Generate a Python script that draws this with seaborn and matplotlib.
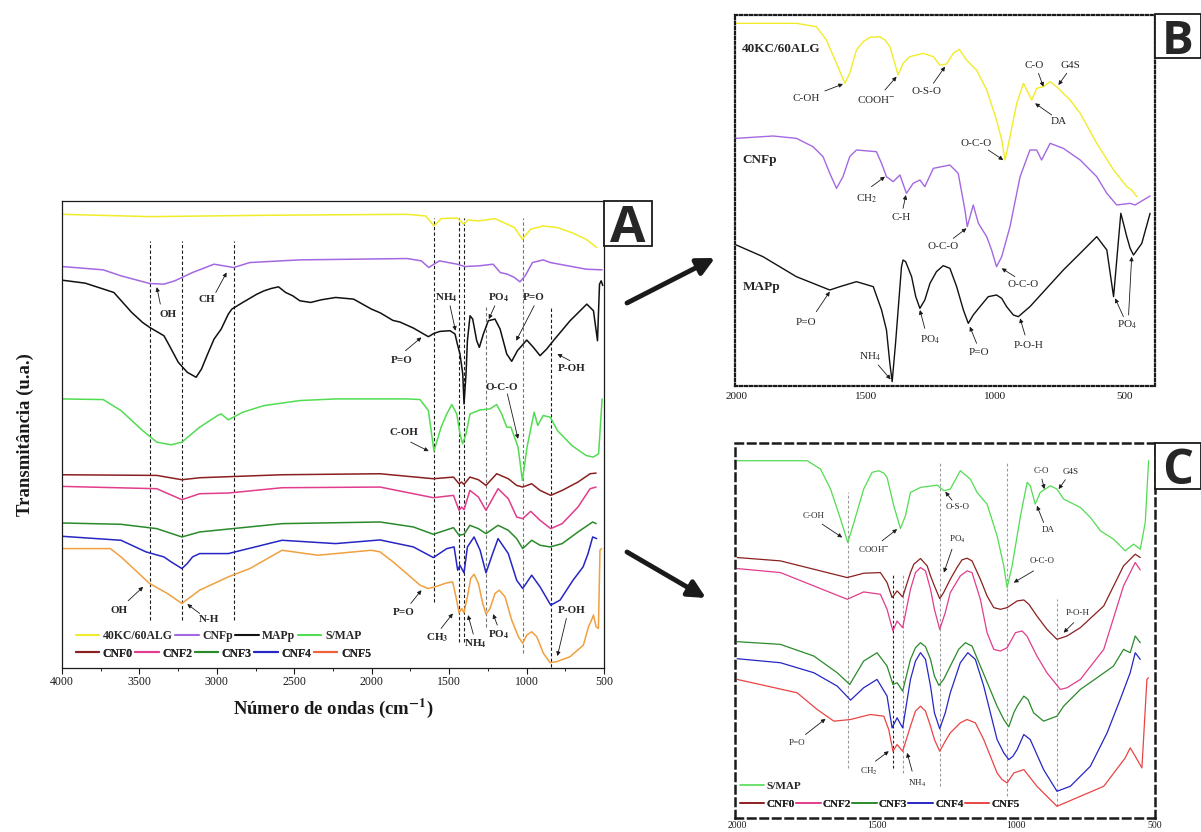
import matplotlib
matplotlib.use("Agg")
import matplotlib.pyplot as plt
import pandas as pd
import seaborn as sns
from matplotlib.lines import Line2D
from matplotlib.patches import Rectangle, FancyArrowPatch

# ---------------- Panel A data (wavenumber, transmittance a.u.) ----------------
A_KC_WN = [4000, 3434, 2695, 1771, 1651, 1598, 1552, 1448, 1406, 1378, 1309, 1205, 1147, 1078, 1027, 974, 893, 801, 708, 616, 547]
A_KC_T = [1364, 1357, 1361, 1364, 1359, 1329, 1351, 1353, 1334, 1347, 1344, 1351, 1339, 1324, 1289, 1319, 1329, 1324, 1309, 1289, 1264]

A_CNFP_WN = [4000, 3734, 3619, 3434, 3342, 3272, 3157, 3018, 2891, 2787, 2464, 1771, 1679, 1632, 1598, 1563, 1448, 1401, 1309, 1216, 1170, 1124, 1078, 1043, 1009, 962, 893, 847, 731, 616, 512]
A_CNFP_T = [1207, 1197, 1179, 1156, 1154, 1164, 1189, 1214, 1204, 1219, 1227, 1231, 1224, 1204, 1214, 1224, 1214, 1207, 1209, 1214, 1189, 1184, 1174, 1161, 1179, 1219, 1227, 1219, 1209, 1199, 1197]

A_MAP_WN = [4000, 3850, 3665, 3550, 3480, 3434, 3342, 3318, 3249, 3191, 3134, 3099, 3064, 3018, 2972, 2926, 2903, 2833, 2741, 2695, 2649, 2602, 2556, 2510, 2464, 2394, 2325, 2233, 2117, 2002, 1946, 1863, 1817, 1731, 1634, 1598, 1559, 1494, 1462, 1447, 1430, 1412, 1404, 1391, 1382, 1365, 1348, 1322, 1305, 1279, 1247, 1204, 1171, 1128, 1096, 1059, 999, 956, 913, 870, 827, 719, 611, 568, 542, 529, 518, 508]
A_MAP_T = [1166, 1157, 1129, 1069, 1039, 1024, 999, 979, 919, 889, 874, 899, 939, 989, 1019, 1064, 1079, 1099, 1124, 1134, 1141, 1146, 1129, 1119, 1104, 1099, 1107, 1114, 1109, 1079, 1068, 1045, 1040, 1022, 996, 1006, 1012, 1014, 1004, 974, 944, 884, 794, 884, 984, 1059, 1049, 984, 964, 1004, 1044, 1049, 1019, 944, 922, 954, 986, 964, 939, 959, 984, 1044, 1094, 1074, 984, 1154, 1164, 1150]

A_SMAP_WN = [4000, 3734, 3619, 3480, 3388, 3295, 3226, 3111, 2995, 2972, 2926, 2833, 2695, 2464, 2233, 1771, 1688, 1634, 1598, 1552, 1515, 1483, 1451, 1430, 1413, 1391, 1365, 1300, 1236, 1193, 1161, 1128, 1101, 1055, 1027, 997, 951, 928, 893, 847, 801, 708, 616, 570, 535, 512]
A_SMAP_T = [809, 807, 774, 714, 679, 671, 679, 724, 759, 764, 746, 769, 789, 804, 809, 809, 807, 774, 652, 724, 764, 792, 764, 704, 674, 704, 764, 776, 779, 792, 764, 724, 724, 664, 564, 664, 769, 729, 759, 754, 714, 669, 639, 634, 644, 809]

A_CNF0_WN = [4000, 3388, 3226, 3111, 2579, 1946, 1602, 1472, 1436, 1420, 1404, 1366, 1311, 1262, 1193, 1118, 1064, 1025, 967, 913, 844, 770, 668, 590, 551]
A_CNF0_T = [581, 579, 566, 572, 581, 584, 569, 574, 554, 559, 552, 574, 566, 549, 584, 569, 549, 544, 554, 534, 519, 534, 559, 584, 586]

A_CNF2_WN = [4000, 3388, 3226, 3111, 2926, 2579, 1946, 1602, 1472, 1436, 1419, 1404, 1366, 1311, 1262, 1184, 1118, 1064, 1025, 973, 913, 844, 770, 668, 590, 551]
A_CNF2_T = [546, 539, 506, 524, 526, 542, 544, 512, 519, 474, 484, 476, 534, 514, 474, 539, 509, 454, 449, 471, 444, 419, 434, 484, 539, 544]

A_CNF3_WN = [4000, 3619, 3388, 3226, 3111, 2579, 1946, 1731, 1602, 1472, 1436, 1404, 1366, 1311, 1262, 1184, 1118, 1064, 1025, 967, 913, 848, 770, 668, 573, 551]
A_CNF3_T = [436, 432, 419, 394, 409, 434, 439, 424, 402, 422, 399, 402, 429, 419, 404, 429, 414, 389, 359, 384, 369, 364, 374, 409, 439, 434]

A_CNF4_WN = [4000, 3619, 3457, 3342, 3295, 3226, 3191, 3157, 3111, 2926, 2579, 2233, 1946, 1731, 1602, 1515, 1468, 1445, 1430, 1404, 1382, 1339, 1300, 1262, 1219, 1184, 1118, 1064, 1025, 967, 913, 844, 784, 700, 635, 603, 573, 547]
A_CNF4_T = [396, 384, 349, 334, 319, 299, 314, 334, 344, 344, 384, 374, 385, 364, 332, 359, 364, 294, 309, 286, 364, 394, 354, 286, 344, 389, 344, 264, 239, 279, 244, 189, 204, 264, 304, 344, 394, 389]

A_CNF5_WN = [4000, 3688, 3619, 3434, 3319, 3226, 3111, 2926, 2787, 2579, 2348, 2002, 1946, 1862, 1774, 1688, 1636, 1591, 1515, 1477, 1456, 1436, 1419, 1404, 1382, 1361, 1339, 1311, 1283, 1262, 1236, 1204, 1176, 1139, 1096, 1053, 1025, 999, 967, 934, 891, 848, 805, 719, 633, 600, 585, 568, 551, 536, 526, 515]
A_CNF5_T = [359, 359, 334, 254, 224, 194, 234, 274, 299, 354, 339, 354, 349, 319, 284, 249, 239, 244, 256, 259, 214, 166, 179, 166, 214, 269, 282, 254, 194, 162, 179, 224, 234, 214, 144, 94, 74, 99, 109, 94, 44, 16, 19, 34, 69, 124, 139, 159, 124, 119, 354, 359]

# ---------------- Panel B data ----------------
B_KC_WN = [2000, 1768, 1691, 1652, 1613, 1581, 1562, 1536, 1510, 1484, 1446, 1426, 1407, 1388, 1375, 1356, 1330, 1278, 1239, 1214, 1188, 1162, 1139, 1111, 1072, 1033, 995, 975, 962, 943, 917, 891, 859, 840, 814, 788, 756, 737, 711, 672, 608, 543, 492, 473, 453]
B_KC_T = [1088, 1088, 1078, 1038, 968, 908, 938, 1008, 1033, 1046, 1048, 1038, 1018, 968, 933, 968, 988, 998, 988, 963, 966, 998, 1010, 978, 948, 888, 798, 738, 678, 748, 848, 908, 858, 893, 898, 913, 893, 878, 858, 818, 728, 648, 598, 588, 568]

B_CNFP_WN = [2000, 1858, 1768, 1704, 1665, 1639, 1613, 1588, 1562, 1536, 1459, 1439, 1420, 1394, 1368, 1343, 1317, 1291, 1272, 1239, 1175, 1143, 1117, 1108, 1085, 1065, 1033, 1014, 995, 975, 943, 904, 866, 840, 821, 788, 737, 672, 608, 569, 531, 479, 460, 402]
B_CNFP_T = [743, 750, 743, 718, 688, 638, 593, 628, 688, 708, 703, 668, 628, 613, 633, 578, 608, 618, 598, 653, 663, 638, 528, 478, 543, 488, 448, 408, 358, 388, 478, 628, 708, 708, 678, 728, 713, 678, 628, 578, 543, 548, 543, 570]

B_MAP_WN = [2000, 1897, 1768, 1639, 1600, 1536, 1471, 1439, 1420, 1407, 1398, 1385, 1368, 1362, 1356, 1346, 1323, 1307, 1291, 1272, 1252, 1227, 1201, 1175, 1149, 1123, 1104, 1085, 1059, 1027, 995, 975, 956, 930, 911, 866, 737, 672, 608, 569, 556, 543, 524, 515, 505, 492, 479, 466, 434, 402]
B_MAP_T = [423, 388, 328, 288, 298, 313, 298, 228, 168, 68, 13, 128, 298, 358, 378, 373, 328, 268, 233, 258, 308, 343, 361, 353, 298, 228, 188, 213, 238, 268, 273, 263, 238, 213, 208, 238, 348, 398, 448, 408, 338, 268, 438, 518, 488, 448, 413, 393, 428, 518]

# ---------------- Panel C data ----------------
C_SMAP_WN = [2000, 1749, 1701, 1665, 1629, 1603, 1581, 1546, 1516, 1492, 1474, 1462, 1438, 1414, 1396, 1378, 1342, 1282, 1258, 1235, 1199, 1163, 1139, 1103, 1067, 1043, 1031, 1013, 983, 959, 948, 930, 912, 894, 876, 852, 840, 828, 804, 768, 732, 696, 649, 607, 577, 553, 535, 523]
C_SMAP_T = [1070, 1070, 1045, 985, 895, 825, 885, 985, 1035, 1040, 1033, 1020, 935, 867, 905, 975, 990, 997, 980, 985, 1040, 1015, 975, 940, 845, 755, 690, 755, 905, 1005, 995, 940, 975, 985, 995, 985, 970, 955, 945, 930, 900, 860, 835, 800, 820, 805, 885, 1070]

C_CNF0_WN = [2000, 1845, 1725, 1605, 1546, 1486, 1462, 1444, 1426, 1406, 1378, 1366, 1342, 1318, 1306, 1292, 1273, 1259, 1235, 1211, 1193, 1175, 1157, 1127, 1103, 1079, 1055, 1031, 995, 971, 953, 924, 888, 852, 816, 768, 684, 613, 571, 553]
C_CNF0_T = [780, 770, 745, 720, 733, 735, 705, 660, 680, 662, 735, 760, 777, 755, 725, 695, 657, 675, 715, 750, 773, 778, 770, 715, 665, 630, 625, 630, 650, 653, 640, 605, 565, 535, 545, 570, 635, 755, 790, 780]

C_CNF2_WN = [2000, 1845, 1725, 1605, 1546, 1486, 1462, 1441, 1426, 1406, 1378, 1360, 1342, 1324, 1306, 1292, 1273, 1253, 1235, 1199, 1175, 1157, 1127, 1103, 1079, 1055, 1031, 1001, 977, 960, 924, 888, 840, 816, 768, 684, 613, 571, 553]
C_CNF2_T = [747, 735, 695, 655, 677, 670, 625, 560, 590, 570, 685, 735, 750, 740, 685, 625, 565, 615, 675, 725, 740, 735, 655, 555, 505, 500, 510, 555, 560, 545, 485, 435, 385, 390, 415, 505, 695, 765, 743]

C_CNF3_WN = [2000, 1845, 1725, 1641, 1596, 1546, 1498, 1462, 1441, 1426, 1406, 1378, 1360, 1342, 1324, 1306, 1292, 1276, 1259, 1235, 1205, 1181, 1157, 1127, 1097, 1067, 1043, 1025, 1007, 995, 971, 956, 936, 900, 852, 828, 768, 708, 649, 613, 589, 571, 553]
C_CNF3_T = [528, 520, 485, 435, 400, 470, 495, 455, 400, 405, 380, 475, 510, 525, 513, 475, 425, 397, 415, 455, 505, 525, 515, 455, 395, 335, 295, 273, 315, 335, 365, 355, 315, 290, 305, 335, 385, 420, 455, 505, 495, 545, 525]

C_CNF4_WN = [2000, 1845, 1725, 1641, 1593, 1546, 1498, 1462, 1444, 1426, 1406, 1378, 1360, 1342, 1324, 1306, 1292, 1273, 1253, 1235, 1199, 1172, 1145, 1115, 1091, 1067, 1043, 1025, 1010, 995, 971, 948, 900, 852, 804, 732, 672, 625, 607, 589, 571, 553]
C_CNF4_T = [477, 465, 435, 395, 353, 390, 415, 365, 270, 300, 270, 415, 470, 495, 475, 395, 315, 267, 315, 375, 465, 495, 475, 395, 315, 235, 195, 175, 185, 205, 250, 235, 145, 80, 95, 155, 255, 355, 395, 435, 495, 475]

C_CNF5_WN = [2000, 1785, 1713, 1653, 1593, 1522, 1474, 1456, 1441, 1426, 1406, 1378, 1360, 1342, 1324, 1306, 1292, 1273, 1253, 1235, 1199, 1175, 1145, 1115, 1091, 1067, 1049, 1031, 1007, 971, 924, 852, 768, 684, 625, 607, 589, 571, 547, 529, 523]
C_CNF5_T = [415, 375, 325, 290, 295, 310, 305, 265, 200, 220, 200, 275, 320, 335, 320, 275, 235, 200, 230, 255, 285, 295, 285, 235, 185, 135, 115, 105, 135, 145, 95, 35, 65, 95, 160, 180, 210, 185, 150, 415, 420]

# ---------------- labels / categories ----------------
A_NAMES = ["40KC/60ALG", "CNFp", "MAPp", "S/MAP", "CNF0", "CNF2", "CNF3", "CNF4", "CNF5"]
A_TICKS = [4000, 3500, 3000, 2500, 2000, 1500, 1000, 500]
BC_TICKS = [2000, 1500, 1000, 500]
C_NAMES = ["S/MAP", "CNF0", "CNF2", "CNF3", "CNF4", "CNF5"]

COL = {"40KC/60ALG": "#f0ec2a", "CNFp": "#a468e2", "MAPp": "#111111", "S/MAP": "#52dc52",
       "CNF0": "#8b2020", "CNF2": "#e23c8c", "CNF3": "#2a8a2a", "CNF4": "#2626c4", "CNF5": "#f0a040"}
COL_C = dict(COL, CNF5="#ea4444")
LEG_CNF5 = "#f0603c"

# annotations: (label, text_x, text_y, [arrow tail/head ...])
A_NOTES = [
    ("OH", 3318, 1064, [(3365, 1094, 3388, 1145)]),
    ("CH", 3064, 1107, [(3007, 1129, 2937, 1189)]),
    ("P=O", 1805, 924, [(1782, 954, 1679, 994)]),
    (r"NH$_\mathbf{4}$", 1517, 1114, [(1494, 1089, 1459, 1014)]),
    (r"PO$_\mathbf{4}$", 1182, 1114, [(1205, 1089, 1244, 1049)]),
    ("P=O", 951, 1114, [(951, 1089, 1067, 984)]),
    ("P-OH", 708, 899, [(720, 924, 801, 944)]),
    ("O-C-O", 1159, 844, [(1124, 824, 1055, 689)]),
    ("C-OH", 1794, 709, [(1748, 679, 1632, 652)]),
    ("OH", 3630, 174, [(3573, 202, 3476, 244)]),
    ("N-H", 3053, 146, [(3111, 164, 3191, 192)]),
    ("P=O", 1794, 166, [(1748, 194, 1679, 234)]),
    (r"CH$_\mathbf{3}$", 1575, 92, [(1552, 119, 1476, 164)]),
    (r"NH$_\mathbf{4}$", 1332, 74, [(1344, 102, 1378, 159)]),
    (r"PO$_\mathbf{4}$", 1182, 99, [(1189, 129, 1216, 162)]),
    ("P-OH", 708, 174, [(743, 149, 801, 36)]),
]
B_NOTES = [
    ("C-OH", 1729, 863, [(1658, 885, 1588, 906)]),
    (r"COOH$^{-}$", 1459, 860, [(1426, 888, 1381, 928)]),
    ("O-S-O", 1265, 885, [(1239, 908, 1194, 958)]),
    ("C-O", 850, 960, [(833, 938, 814, 898)]),
    ("G4S", 708, 960, [(724, 938, 756, 903)]),
    ("DA", 756, 793, [(782, 813, 846, 848)]),
    ("O-C-O", 1072, 728, [(1027, 708, 969, 678)]),
    (r"CH$_2$", 1497, 563, [(1478, 598, 1426, 628)]),
    ("C-H", 1362, 506, [(1356, 533, 1345, 573)]),
    ("O-C-O", 1201, 418, [(1162, 443, 1111, 473)]),
    ("O-C-O", 891, 305, [(924, 328, 975, 353)]),
    ("P=O", 1729, 191, [(1691, 223, 1639, 283)]),
    (r"NH$_4$", 1484, 88, [(1452, 63, 1404, 20)]),
    (r"PO$_4$", 1252, 138, [(1272, 173, 1291, 228)]),
    ("P=O", 1062, 100, [(1072, 128, 1098, 178)]),
    ("P-O-H", 872, 123, [(885, 153, 904, 203)]),
    (r"PO$_4$", 492, 183, [(505, 208, 537, 263), (485, 213, 473, 388)]),
]
C_NOTES = [
    ("C-OH", 1725, 905, [(1695, 880, 1623, 840)]),
    (r"COOH$^{-}$", 1510, 807, [(1480, 830, 1426, 865)]),
    ("O-S-O", 1207, 930, [(1229, 952, 1253, 977)]),
    ("C-O", 909, 1040, [(906, 1015, 897, 985)]),
    ("G4S", 802, 1035, [(822, 1013, 846, 985)]),
    ("DA", 882, 863, [(900, 885, 924, 935)]),
    (r"PO$_4$", 1211, 835, [(1229, 805, 1258, 735)]),
    ("O-C-O", 906, 770, [(936, 740, 1007, 705)]),
    ("P-O-H", 778, 615, [(792, 585, 828, 555)]),
    ("P=O", 1785, 225, [(1755, 250, 1683, 297)]),
    (r"CH$_2$", 1528, 140, [(1504, 170, 1456, 200)]),
    (r"NH$_4$", 1354, 105, [(1372, 140, 1390, 195)]),
]
A_VLINES = [(3434, 1284, 144, "k"), (3226, 1284, 144, "k"), (2891, 1284, 144, "k"),
            (1598, 1354, 199, "k"), (1436, 1354, 79, "k"), (1404, 1354, 79, "k"),
            (1262, 1089, 124, "0.45"), (1025, 1354, 44, "0.45"), (844, 1089, 4, "k")]
C_VLINES = [(1603, 975, 150, "0.6"), (1441, 730, 150, "k"), (1406, 730, 135, "0.6"),
            (1273, 1065, 95, "0.6"), (1031, 1065, 65, "0.6"), (852, 655, 35, "0.6")]

# ---------------- style ----------------
sns.set_theme(style="white")
plt.rcParams["font.family"] = ["Liberation Serif", "DejaVu Serif"]
plt.rcParams["mathtext.fontset"] = "stix"

fig = plt.figure(figsize=(12.01, 8.32), dpi=100)
W, H = 1201, 832


def px_axes(x0, y0, x1, y1):
    return fig.add_axes([x0 / W, 1 - y1 / H, (x1 - x0) / W, (y1 - y0) / H])


def draw(ax, series, pal, lw):
    df = pd.concat([pd.DataFrame({"wn": w, "T": t, "sample": n}) for n, w, t in series],
                   ignore_index=True)
    sns.lineplot(data=df, x="wn", y="T", hue="sample", palette=pal, sort=False,
                 estimator=None, legend=False, lw=lw, ax=ax,
                 hue_order=[s[0] for s in series])
    ax.set_xlabel("")
    ax.set_ylabel("")


def notes(ax, items, fs, weight):
    for lab, tx, ty, arrows in items:
        ax.text(tx, ty, lab, ha="center", va="center", fontsize=fs, fontweight=weight, zorder=5)
        for x0, y0, x1, y1 in arrows:
            ax.annotate("", xy=(x1, y1), xytext=(x0, y0), zorder=5,
                        arrowprops=dict(arrowstyle="-|>", color="k", lw=0.6,
                                        mutation_scale=6, shrinkA=0, shrinkB=0))


# ================= Panel A =================
axA = px_axes(62, 201, 604, 668)
seriesA = [("40KC/60ALG", A_KC_WN, A_KC_T), ("CNFp", A_CNFP_WN, A_CNFP_T),
           ("MAPp", A_MAP_WN, A_MAP_T), ("S/MAP", A_SMAP_WN, A_SMAP_T),
           ("CNF0", A_CNF0_WN, A_CNF0_T), ("CNF2", A_CNF2_WN, A_CNF2_T),
           ("CNF3", A_CNF3_WN, A_CNF3_T), ("CNF4", A_CNF4_WN, A_CNF4_T),
           ("CNF5", A_CNF5_WN, A_CNF5_T)]
for wn, top, bot, c in A_VLINES:
    axA.plot([wn, wn], [bot, top], color=c, lw=0.8, ls=(0, (3, 2)), zorder=1)
draw(axA, seriesA, COL, 1.1)
axA.set_xlim(4000, 500)
axA.set_ylim(0, 1404)
axA.set_xticks(A_TICKS)
axA.set_xticks(range(3750, 500, -500), minor=True)
axA.set_yticks([])
axA.tick_params(axis="x", which="major", bottom=True, direction="out", length=4, width=0.8,
                labelsize=8.5, pad=2, colors="k")
axA.tick_params(axis="x", which="minor", bottom=True, direction="out", length=2.5, width=0.7)
for s in axA.spines.values():
    s.set_color("k"); s.set_linewidth(0.9)
axA.set_xlabel("Número de ondas (cm$^{\\mathbf{-1}}$)", fontsize=13.5, fontweight="bold",
               labelpad=6, color="k")
axA.set_ylabel("Transmitância (u.a.)", fontsize=13.5, fontweight="bold", labelpad=20, color="k")
notes(axA, A_NOTES, 8, "bold")

legprop = dict(family="Liberation Serif", weight="bold", size=8.5)
h1 = [Line2D([], [], color=COL[n], lw=1.5) for n in A_NAMES[:4]]
h2 = [Line2D([], [], color=(LEG_CNF5 if n == "CNF5" else COL[n]), lw=1.5) for n in A_NAMES[4:]]
for hs, labs, yy in [(h1, A_NAMES[:4], 0.068), (h2, A_NAMES[4:], 0.031)]:
    lg = axA.legend(hs, labs, loc="center left", bbox_to_anchor=(0.025, yy), ncol=len(labs),
                    frameon=False, handlelength=2.0, handletextpad=0.3, columnspacing=0.2,
                    borderpad=0, borderaxespad=0, prop=legprop)
    axA.add_artist(lg)

# ================= Panel B =================
axB = px_axes(735, 15, 1155, 386)
seriesB = [("40KC/60ALG", B_KC_WN, B_KC_T), ("CNFp", B_CNFP_WN, B_CNFP_T), ("MAPp", B_MAP_WN, B_MAP_T)]
draw(axB, seriesB, COL, 1.0)
axB.set_xlim(2005, 383)
axB.set_ylim(0, 1113)
axB.set_xticks(BC_TICKS)
axB.set_yticks([])
axB.tick_params(axis="x", length=0, labelsize=8, pad=4, colors="k")
for s in axB.spines.values():
    s.set_color("k"); s.set_linewidth(1.6); s.set_linestyle((0, (1, 1.2)))
for lab, y in [("40KC/60ALG", 1010), ("CNFp", 678), ("MAPp", 298)]:
    axB.text(1977, y, lab, ha="left", va="center", fontsize=9.5, fontweight="bold")
notes(axB, B_NOTES, 8, "normal")

# ================= Panel C =================
axC = px_axes(735, 443, 1155, 818)
seriesC = [("S/MAP", C_SMAP_WN, C_SMAP_T), ("CNF0", C_CNF0_WN, C_CNF0_T),
           ("CNF2", C_CNF2_WN, C_CNF2_T), ("CNF3", C_CNF3_WN, C_CNF3_T),
           ("CNF4", C_CNF4_WN, C_CNF4_T), ("CNF5", C_CNF5_WN, C_CNF5_T)]
for wn, top, bot, c in C_VLINES:
    axC.plot([wn, wn], [bot, top], color=c, lw=0.8, ls=(0, (2.5, 2)), zorder=1)
draw(axC, seriesC, COL_C, 0.9)
axC.set_xlim(2008, 500)
axC.set_ylim(0, 1123)
axC.set_xticks(BC_TICKS)
axC.set_yticks([])
axC.tick_params(axis="x", length=0, labelsize=7, pad=2, colors="k")
for s in axC.spines.values():
    s.set_color("k"); s.set_linewidth(1.8); s.set_linestyle((0, (3, 2)))
notes(axC, C_NOTES, 6.5, "normal")
legpropC = dict(family="Liberation Serif", weight="bold", size=8)
hc1 = [Line2D([], [], color=COL_C["S/MAP"], lw=1.2)]
hc2 = [Line2D([], [], color=COL_C[n], lw=1.2) for n in C_NAMES[1:]]
for hs, labs, yy in [(hc1, C_NAMES[:1], 0.085), (hc2, C_NAMES[1:], 0.036)]:
    lg = axC.legend(hs, labs, loc="center left", bbox_to_anchor=(0.012, yy), ncol=len(labs),
                    frameon=False, handlelength=2.2, handletextpad=0.2, columnspacing=0.1,
                    borderpad=0, borderaxespad=0, prop=legpropC)
    axC.add_artist(lg)

# ================= panel letters & arrows =================
for letter, (x0, y0, x1, y1), fs in [("A", (604, 201, 652, 246), 37),
                                     ("B", (1155, 14, 1201, 58), 34),
                                     ("C", (1155, 443, 1201, 489), 35)]:
    fig.add_artist(Rectangle((x0 / W, 1 - y1 / H), (x1 - x0) / W, (y1 - y0) / H,
                             transform=fig.transFigure, facecolor="white", edgecolor="k", lw=1.3))
    fig.text((x0 + x1) / 2 / W, 1 - (y0 + y1) / 2 / H, letter, ha="center", va="center_baseline",
             fontsize=fs, fontweight="bold", family=["Open Sans", "DejaVu Sans"])

for (xa, ya), (xb, yb) in [((627, 303), (715, 258)), ((627, 552), (706, 598))]:
    fig.add_artist(FancyArrowPatch((xa / W, 1 - ya / H), (xb / W, 1 - yb / H),
                                   transform=fig.transFigure, arrowstyle="-|>",
                                   mutation_scale=26, lw=3.5, color="k", shrinkA=0, shrinkB=0,
                                   capstyle="round"))

fig.savefig("out.png", dpi=100, facecolor="white")
